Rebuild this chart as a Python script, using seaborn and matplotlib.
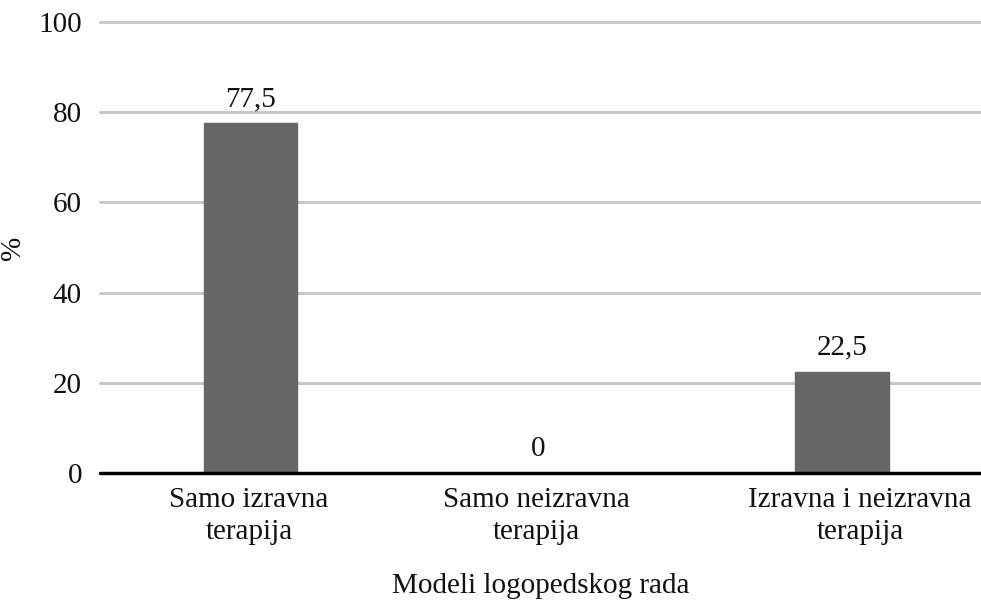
import pandas as pd
import seaborn as sns
import matplotlib.pyplot as plt
from matplotlib.transforms import ScaledTranslation

# Chart data
categories = ['Samo izravna\nterapija', 'Samo neizravna\nterapija', 'Izravna i neizravna\nterapija']
values = [77.5, 0, 22.5]
value_labels = ['77,5', '0', '22,5']
y_ticks = [0, 20, 40, 60, 80, 100]


def draw_chart():
    df = pd.DataFrame({'model': categories, 'pct': values})

    sns.set_style('white')
    plt.rcParams['font.family'] = ['Liberation Serif', 'DejaVu Serif']

    fig = plt.figure(figsize=(9.81, 6.03), dpi=100)
    ax = fig.add_axes([100 / 981, 1 - 473 / 603, 1 - 100 / 981, (473 - 22) / 603])

    # light horizontal grid behind the bars
    for t in y_ticks[1:]:
        ax.axhline(t, color='#c8c8c8', linewidth=2.2, zorder=0, clip_on=False)

    sns.barplot(data=df, x='model', y='pct', color='#666666', width=0.315,
                saturation=1, ax=ax, zorder=2, edgecolor='#666666')

    # value labels above bars
    label_shift = [0, -6, 0]
    for i, (v, lab) in enumerate(zip(values, value_labels)):
        ax.annotate(lab, (i, v), xytext=(label_shift[i], 8), textcoords='offset points',
                    ha='center', va='bottom', fontsize=21, color='#111111')

    ax.axhline(0, color='black', linewidth=2.5, zorder=3, clip_on=False)

    ax.set_ylim(0, 100)
    ax.set_xlim(-0.508, 2.47)
    ax.set_yticks(y_ticks)
    ax.set_yticklabels([str(t) for t in y_ticks], fontsize=21, color='#111111')
    ax.tick_params(axis='x', labelsize=21, colors='#111111', length=0, pad=10)
    ax.tick_params(axis='y', length=0, pad=13)

    # Excel nudged the category labels a little; mimic it
    tick_shift = [-1, -7, 13]
    for lab, dx in zip(ax.get_xticklabels(), tick_shift):
        lab.set_linespacing(1.3)
        lab.set_transform(lab.get_transform() + ScaledTranslation(dx / 72, 0, fig.dpi_scale_trans))

    ax.set_xlabel('Modeli logopedskog rada', fontsize=21, color='#111111', labelpad=20)
    ax.set_ylabel('%', fontsize=21, color='#111111', labelpad=9)

    for side in ['top', 'right', 'left', 'bottom']:
        ax.spines[side].set_visible(False)

    fig.savefig('out.png', dpi=100)


if __name__ == '__main__':
    draw_chart()
